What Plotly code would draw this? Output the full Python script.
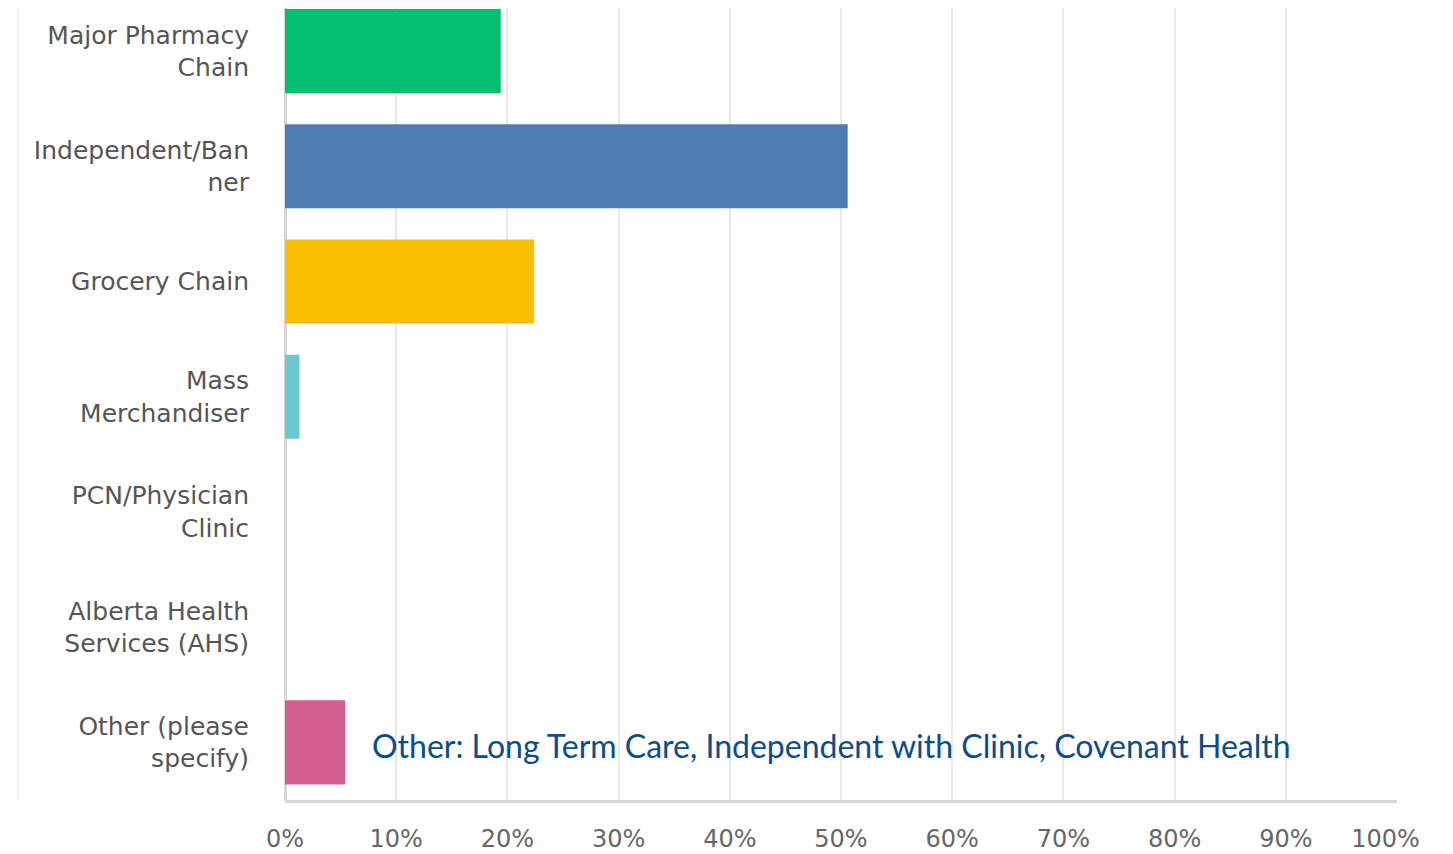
"""Survey response bar chart: pharmacy type distribution."""

import plotly.graph_objects as go

CATEGORIES = [
    "Major Pharmacy<br>Chain",
    "Independent/Ban<br>ner",
    "Grocery Chain",
    "Mass<br>Merchandiser",
    "PCN/Physician<br>Clinic",
    "Alberta Health<br>Services (AHS)",
    "Other (please<br>specify)",
]
PERCENTS = [19.4, 50.6, 22.4, 1.3, 0.0, 0.0, 5.4]
BAR_COLORS = ["#00bf6f", "#507cb6", "#f9be00", "#6bc8cd", "#d25f90", "#d25f90", "#d25f90"]
TICK_VALUES = [0, 10, 20, 30, 40, 50, 60, 70, 80, 90, 100]
TICK_LABELS = [f"{v}%" for v in TICK_VALUES]
# last label sits a bit left of its gridline in the original
TICK_LABELS[-1] = TICK_LABELS[-1] + "&nbsp;&nbsp;&nbsp;"
NOTE = "Other: Long Term Care, Independent with Clinic, Covenant Health"

fig = go.Figure(
    go.Bar(
        x=PERCENTS,
        y=CATEGORIES,
        orientation="h",
        marker=dict(color=BAR_COLORS, line=dict(width=0)),
        width=0.73,
    )
)

fig.update_xaxes(
    range=[0, 100],
    tickvals=TICK_VALUES,
    ticktext=TICK_LABELS,
    showgrid=True,
    gridcolor="#e9e9e9",
    gridwidth=2,
    zeroline=True,
    zerolinecolor="#d6d6d6",
    zerolinewidth=3,
    showline=True,
    linecolor="#d6d6d6",
    linewidth=3,
    tickfont=dict(family="DejaVu Sans", size=24, color="#666666"),
    ticklabelstandoff=15,
)
# page has an 8px body margin, so the first row is clipped a little at the top
fig.update_yaxes(
    categoryorder="array",
    categoryarray=CATEGORIES,
    range=[6.5, -0.374],
    showgrid=False,
    tickfont=dict(family="DejaVu Sans", size=25, color="#555555"),
    ticklabelstandoff=35,
)

fig.add_annotation(
    x=7.6,
    y=CATEGORIES[-1],
    text=NOTE,
    showarrow=False,
    xanchor="left",
    yanchor="middle",
    yshift=-3,
    font=dict(family="Lato", size=32, color="#0b4c8c"),
)

fig.add_shape(
    type="line",
    xref="paper",
    yref="paper",
    x0=-0.24,
    x1=-0.24,
    y0=0,
    y1=1,
    line=dict(color="#f2f2f2", width=2),
)

fig.update_layout(
    width=1445,
    height=846,
    margin=dict(l=277, r=56, t=0, b=54),
    plot_bgcolor="white",
    paper_bgcolor="white",
    showlegend=False,
)

fig.write_html("out.html")
